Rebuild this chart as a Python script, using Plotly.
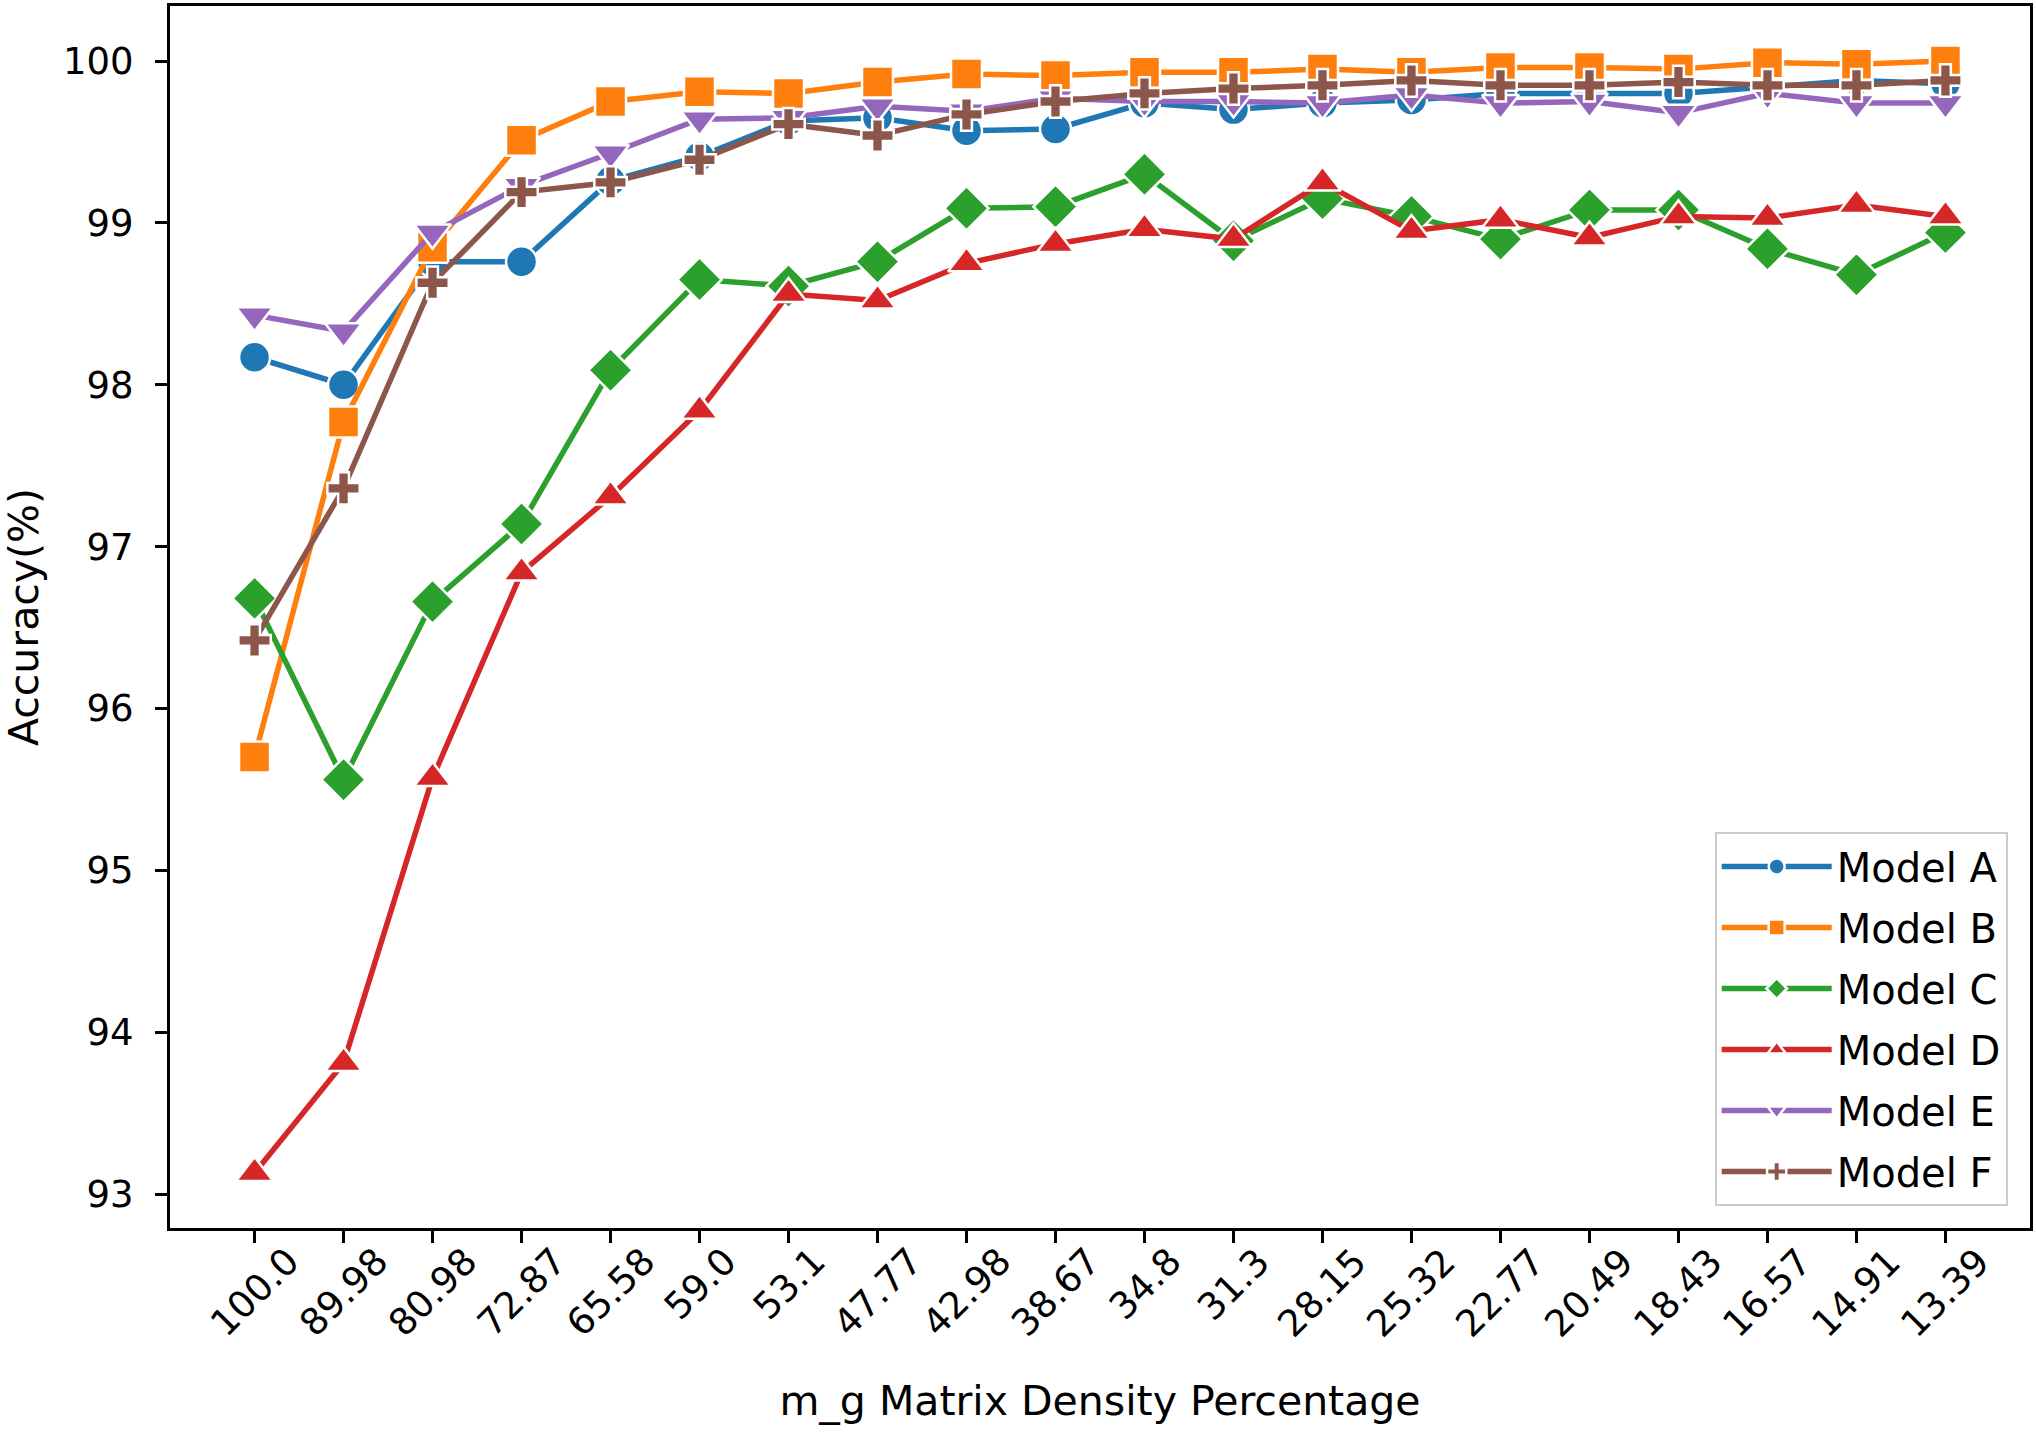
"""
Accuracy vs m_g matrix density for six models (line + marker chart).
"""

import plotly.graph_objects as go

# x categories (density percentage, read as labels)
density = [
    "100.0", "89.98", "80.98", "72.87", "65.58", "59.0", "53.1", "47.77",
    "42.98", "38.67", "34.8", "31.3", "28.15", "25.32", "22.77", "20.49",
    "18.43", "16.57", "14.91", "13.39",
]

model_a = [98.17, 98.00, 98.76, 98.76, 99.26, 99.41, 99.63, 99.65, 99.57, 99.58,
           99.74, 99.70, 99.74, 99.76, 99.80, 99.80, 99.80, 99.84, 99.88, 99.86]
model_b = [95.70, 97.77, 98.85, 99.51, 99.75, 99.81, 99.80, 99.87, 99.92, 99.91,
           99.93, 99.93, 99.95, 99.93, 99.96, 99.96, 99.95, 99.99, 99.98, 100.0]
model_c = [96.68, 95.56, 96.66, 97.14, 98.09, 98.65, 98.61, 98.76, 99.09, 99.10,
           99.30, 98.89, 99.15, 99.04, 98.90, 99.08, 99.08, 98.84, 98.68, 98.94]
model_d = [93.13, 93.81, 95.57, 96.84, 97.31, 97.84, 98.56, 98.52, 98.75, 98.87,
           98.96, 98.90, 99.25, 98.95, 99.02, 98.91, 99.04, 99.03, 99.11, 99.04]
model_e = [98.43, 98.33, 98.94, 99.23, 99.43, 99.64, 99.65, 99.72, 99.69, 99.77,
           99.75, 99.75, 99.74, 99.79, 99.74, 99.75, 99.68, 99.80, 99.74, 99.74]
model_f = [96.42, 97.36, 98.63, 99.19, 99.25, 99.39, 99.61, 99.54, 99.67, 99.75,
           99.80, 99.83, 99.85, 99.88, 99.85, 99.85, 99.87, 99.85, 99.85, 99.88]

y_ticks = [93, 94, 95, 96, 97, 98, 99, 100]

FONT = "DejaVu Sans"

# name, values, color, plotly symbol, marker size
series = [
    ("Model A", model_a, "#1f77b4", "circle", 31),
    ("Model B", model_b, "#ff7f0e", "square", 31),
    ("Model C", model_c, "#2ca02c", "diamond", 34),
    ("Model D", model_d, "#d62728", "triangle-up", 32),
    ("Model E", model_e, "#9467bd", "triangle-down", 32),
    ("Model F", model_f, "#8c564b", "cross", 27),
]

fig = go.Figure()
for name, vals, color, symbol, size in series:
    fig.add_trace(
        go.Scatter(
            x=density,
            y=vals,
            name=name,
            mode="lines+markers",
            line=dict(color=color, width=5.5),
            marker=dict(symbol=symbol, size=size, color=color,
                        line=dict(color="white", width=2.5)),
            legendgroup=name,
        )
    )

# rotated x tick labels, centred under each tick (matplotlib style);
# category axis positions are the list indices
for i, cat in enumerate(density):
    fig.add_annotation(
        x=i, xref="x", y=0, yref="paper",
        text=cat, textangle=-45, showarrow=False,
        xanchor="center", yanchor="top", yshift=-9,
        font=dict(family=FONT, size=37, color="black"),
    )

fig.update_layout(
    width=2036,
    height=1435,
    paper_bgcolor="white",
    plot_bgcolor="white",
    font=dict(family=FONT, size=37, color="black"),
    margin=dict(l=170, r=6, t=6, b=207),
    showlegend=True,
    legend=dict(
        x=0.988, y=0.018, xanchor="right", yanchor="bottom",
        bgcolor="rgba(255,255,255,0.8)", bordercolor="#cccccc", borderwidth=2,
        font=dict(family=FONT, size=40, color="black"),
        tracegroupgap=6,
        itemwidth=110,
    ),
    xaxis=dict(
        type="category",
        range=[-0.95, 19.95],
        tickvals=density,
        showticklabels=False,
        ticks="outside", ticklen=12, tickwidth=3, tickcolor="black",
        showline=True, linecolor="black", linewidth=3, mirror=True,
        showgrid=False, zeroline=False,
        title=dict(text="m_g Matrix Density Percentage", standoff=145,
                   font=dict(family=FONT, size=41)),
        automargin=False,
    ),
    yaxis=dict(
        range=[92.79, 100.34],
        tickvals=y_ticks,
        ticks="outside", ticklen=12, tickwidth=3, tickcolor="black",
        ticklabelstandoff=14,
        showline=True, linecolor="black", linewidth=3, mirror=True,
        showgrid=False, zeroline=False,
        tickfont=dict(family=FONT, size=37),
        title=dict(text="Accuracy(%)", standoff=20,
                   font=dict(family=FONT, size=41)),
        automargin=False,
    ),
)

# page body has a default 8px margin; drop it so the figure sits at the origin
fig.write_html(
    "out.html",
    config={"displayModeBar": False},
    post_script="document.body.style.margin='0';",
)
